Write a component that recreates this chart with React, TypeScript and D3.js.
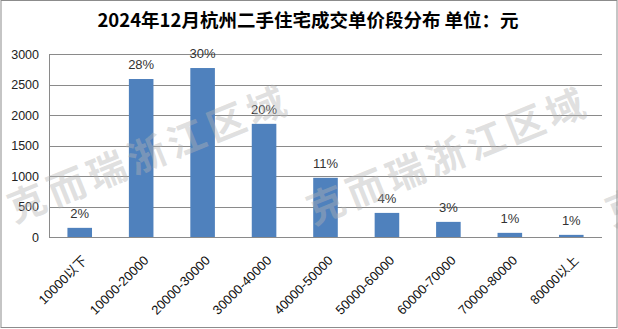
import React from "react";
import * as d3 from "d3";

const categories = ["10000以下", "10000-20000", "20000-30000", "30000-40000", "40000-50000", "50000-60000", "60000-70000", "70000-80000", "80000以上"];
const values = [150, 2590, 2770, 1855, 970, 395, 248, 68, 35];
const percentLabels = ["2%", "28%", "30%", "20%", "11%", "4%", "3%", "1%", "1%"];
const yTicks = [0, 500, 1000, 1500, 2000, 2500, 3000];
const title = "2024年12月杭州二手住宅成交单价段分布 单位：元";
const watermark = "克而瑞浙江区域";

const W = 618;
const H = 329;
const FONT = "'Liberation Sans', 'Noto Sans CJK SC', sans-serif";

export default function App() {
  const x = d3.scaleBand<string>().domain(categories).range([49, 602]).paddingInner(0.6).paddingOuter(0.3);
  const y = d3.scaleLinear().domain([0, 3000]).range([237, 54]);
  const watermarkCenters = [
    [149, 154],
    [448, 156],
    [747, 158],
  ];
  return (
    <svg width={W} height={H} style={{ position: "absolute", left: 0, top: 0, background: "#fff" }}>
      <rect x={0} y={0} width={W} height={H} fill="#fff" />
      <text x={308} y={27} textAnchor="middle" fontFamily="'Noto Sans CJK SC', sans-serif" fontSize={18.5} fontWeight="bold" fill="#000">
        {title}
      </text>
      {yTicks.map((t) => (
        <g key={t}>
          <line x1={49} x2={602} y1={Math.round(y(t)) + 0.5} y2={Math.round(y(t)) + 0.5} stroke="#8a8a8a" strokeWidth={1} />
          <text x={39} y={y(t)} dy="0.36em" textAnchor="end" fontFamily={FONT} fontSize={12.5} fill="#222">
            {t}
          </text>
        </g>
      ))}
      <line x1={49.5} x2={49.5} y1={54} y2={237.5} stroke="#8a8a8a" strokeWidth={1} />
      {categories.map((c, i) => {
        const bx = x(c) as number;
        const bw = x.bandwidth();
        const top = y(values[i]);
        const cx = bx + bw / 2;
        return (
          <g key={c}>
            <rect x={bx} y={top} width={bw} height={y(0) - top} fill="#4f81bd" />
            <text x={cx} y={top - 10} textAnchor="middle" fontFamily={FONT} fontSize={13} fill="#333">
              {percentLabels[i]}
            </text>
            <text
              transform={`translate(${cx + 5},${258}) rotate(-45)`}
              textAnchor="end"
              dy="0.35em"
              fontFamily={FONT}
              fontSize={13}
              fill="#111"
            >
              {c}
            </text>
          </g>
        );
      })}
      {watermarkCenters.map(([wx, wy], i) => (
        <text
          key={i}
          transform={`translate(${wx},${wy}) rotate(-22)`}
          textAnchor="middle"
          dy="0.36em"
          fontFamily="'Noto Sans CJK SC', sans-serif"
          fontWeight="bold"
          fontSize={38}
          letterSpacing={5}
          fill="#b4b4b4"
          fillOpacity={0.42}
        >
          {watermark}
        </text>
      ))}
      <rect x={1} y={0.5} width={616} height={327} fill="none" stroke="#8c8c8c" strokeWidth={1} />
    </svg>
  );
}
